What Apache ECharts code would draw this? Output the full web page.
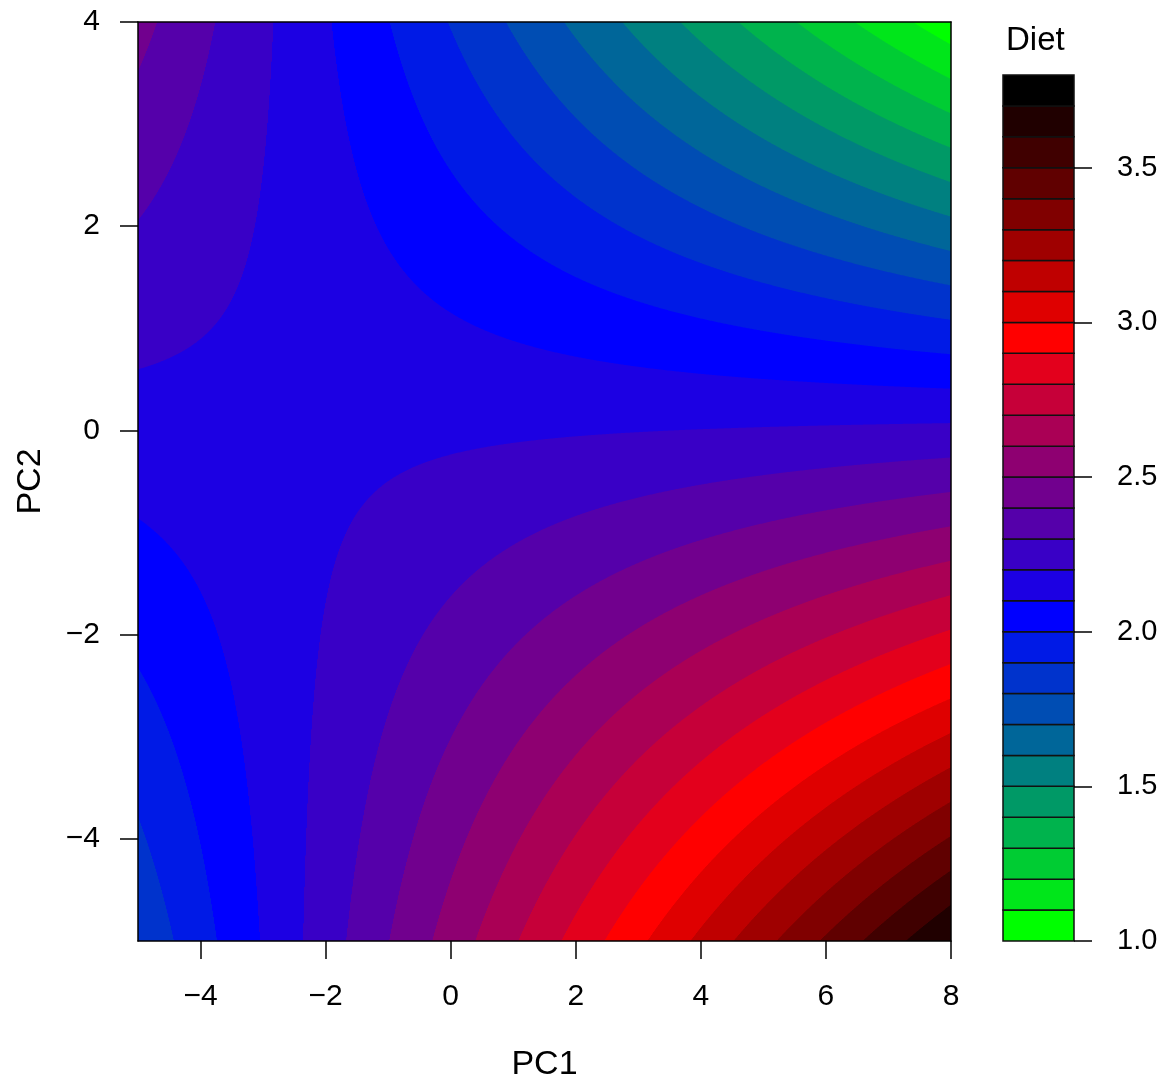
<!DOCTYPE html>
<html>
<head>
<meta charset="utf-8">
<title>Diet response surface</title>
<script src="https://cdn.jsdelivr.net/npm/echarts@6/dist/echarts.min.js"></script>
<style>
  html, body { margin: 0; padding: 0; background: #ffffff; }
  #chart { width: 1172px; height: 1082px; }
</style>
</head>
<body>
<div id="chart"></div>
<script>
// Fitted surface: Diet ~ PC1 * PC2 (linear terms plus interaction)
const fitTerms = ['(Intercept)', 'PC1', 'PC2', 'PC1:PC2'];
const fitCoefs = [2.183, 0.0048, -0.072, -0.0281];

// Plotted window and axis ticks
const pc1Range = [-5, 8];
const pc2Range = [-5, 4];
const pc1Ticks = [-4, -2, 0, 2, 4, 6, 8];
const pc2Ticks = [-4, -2, 0, 2, 4];

// Contour levels of Diet and the colour for each band [level i, level i+1)
const dietLevels = [1.0, 1.1, 1.2, 1.3, 1.4, 1.5, 1.6, 1.7, 1.8, 1.9,
                    2.0, 2.1, 2.2, 2.3, 2.4, 2.5, 2.6, 2.7, 2.8, 2.9,
                    3.0, 3.1, 3.2, 3.3, 3.4, 3.5, 3.6, 3.7, 3.8];
const dietTicks = [1.0, 1.5, 2.0, 2.5, 3.0, 3.5];
const bandColors = [
  '#00FF00', '#00E61A', '#00CC33', '#00B34D', '#009966', '#008080', '#006699',
  '#004DB3', '#0033CC', '#001AE6', '#0000FF', '#1C00E3', '#3900C6', '#5500AA',
  '#71008E', '#8E0071', '#AA0055', '#C60039', '#E3001C', '#FF0000', '#DF0000',
  '#BF0000', '#9F0000', '#800000', '#600000', '#400000', '#200000', '#000000'
];

const FONT = '"Liberation Sans", Arial, Helvetica, sans-serif';
const nCols = 813; // one strip per screen column of the plot

function coefOf(name) { return fitCoefs[fitTerms.indexOf(name)]; }

// Build filled-contour strips. Along each PC1 strip the surface is linear in PC2,
// so every region {Diet >= level} is one PC2 interval; regions are stacked bottom-up.
function buildStrips() {
  const b0 = coefOf('(Intercept)'), b1 = coefOf('PC1'), b2 = coefOf('PC2'), b12 = coefOf('PC1:PC2');
  const out = [];
  const dx = (pc1Range[1] - pc1Range[0]) / nCols;
  const nb = bandColors.length;
  for (let i = 0; i < nCols; i++) {
    const x0 = pc1Range[0] + i * dx;
    const x1 = x0 + dx;
    const xc = (x0 + x1) / 2;
    const p = b0 + b1 * xc;
    const q = b2 + b12 * xc;
    const zA = p + q * pc2Range[0];
    const zB = p + q * pc2Range[1];
    const zMin = Math.min(zA, zB), zMax = Math.max(zA, zB);
    let k0 = 0;
    while (k0 < nb - 1 && dietLevels[k0 + 1] <= zMin) k0++;
    out.push([x0, x1, pc2Range[0], pc2Range[1], (dietLevels[k0] + dietLevels[k0 + 1]) / 2]);
    for (let k = k0 + 1; k < nb && dietLevels[k] <= zMax; k++) {
      const yb = (dietLevels[k] - p) / q;
      const lo = q > 0 ? Math.max(yb, pc2Range[0]) : pc2Range[0];
      const hi = q > 0 ? pc2Range[1] : Math.min(yb, pc2Range[1]);
      if (hi > lo) out.push([x0, x1, lo, hi, (dietLevels[k] + dietLevels[k + 1]) / 2]);
    }
  }
  return out;
}

// Colour key: one box per band
function buildKey() {
  const out = [];
  for (let k = 0; k < bandColors.length; k++) {
    out.push([0, 1, dietLevels[k], dietLevels[k + 1], (dietLevels[k] + dietLevels[k + 1]) / 2]);
  }
  return out;
}

function rectItem(api, style) {
  const tl = api.coord([api.value(0), api.value(3)]);
  const br = api.coord([api.value(1), api.value(2)]);
  return {
    type: 'rect',
    shape: { x: tl[0], y: tl[1], width: br[0] - tl[0], height: br[1] - tl[1] },
    style: Object.assign({ fill: api.visual('color') }, style)
  };
}

function minusFmt(v) {
  return v < 0 ? '\u2212' + Math.abs(v) : String(v);
}

const pieces = bandColors.map((c, k) => ({ gte: dietLevels[k], lt: dietLevels[k + 1], color: c }));

const lineStyle = { color: '#000', width: 1.5 };

const option = {
  animation: false,
  backgroundColor: '#ffffff',
  textStyle: { fontFamily: FONT },
  grid: [
    { left: 138, top: 22, width: 813, height: 919, outerBoundsMode: 'none', containLabel: false },
    { left: 1003, top: 75, width: 71, height: 866, outerBoundsMode: 'none', containLabel: false }
  ],
  visualMap: {
    type: 'piecewise',
    show: false,
    dimension: 4,
    seriesIndex: [0, 1],
    pieces: pieces
  },
  xAxis: [
    {
      type: 'value', gridIndex: 0, min: pc1Range[0], max: pc1Range[1], position: 'bottom', z: 10,
      name: 'PC1', nameLocation: 'middle', nameGap: 107,
      nameTextStyle: { fontSize: 34, color: '#000', fontFamily: FONT },
      axisLine: { show: true, onZero: false, lineStyle: lineStyle },
      axisTick: { show: true, inside: false, length: 18, lineStyle: lineStyle, customValues: pc1Ticks },
      axisLabel: { show: true, margin: 41, fontSize: 30, color: '#000', fontFamily: FONT,
                   customValues: pc1Ticks, formatter: minusFmt, hideOverlap: false },
      splitLine: { show: false }
    },
    {
      type: 'value', gridIndex: 1, min: 0, max: 1, show: false,
      axisLine: { onZero: false }
    },
    {
      type: 'value', gridIndex: 0, min: pc1Range[0], max: pc1Range[1], position: 'top', z: 10,
      axisLine: { show: true, onZero: false, lineStyle: lineStyle },
      axisTick: { show: false }, axisLabel: { show: false }, splitLine: { show: false }
    }
  ],
  yAxis: [
    {
      type: 'value', gridIndex: 0, min: pc2Range[0], max: pc2Range[1], position: 'left', z: 10,
      name: 'PC2', nameLocation: 'middle', nameGap: 90, nameRotate: 90,
      nameTextStyle: { fontSize: 34, color: '#000', fontFamily: FONT },
      axisLine: { show: true, onZero: false, lineStyle: lineStyle },
      axisTick: { show: true, inside: false, length: 18, lineStyle: lineStyle, customValues: pc2Ticks },
      axisLabel: { show: true, margin: 38, fontSize: 30, color: '#000', fontFamily: FONT,
                   customValues: pc2Ticks, formatter: minusFmt, hideOverlap: false },
      splitLine: { show: false }
    },
    {
      type: 'value', gridIndex: 1, min: dietLevels[0], max: dietLevels[dietLevels.length - 1],
      position: 'right', z: 10,
      axisLine: { show: false, onZero: false },
      axisTick: { show: true, inside: false, length: 18, lineStyle: lineStyle, customValues: dietTicks },
      axisLabel: { show: true, margin: 43, fontSize: 29, color: '#000', fontFamily: FONT,
                   customValues: dietTicks, formatter: v => Number(v).toFixed(1), hideOverlap: false },
      splitLine: { show: false }
    },
    {
      type: 'value', gridIndex: 0, min: pc2Range[0], max: pc2Range[1], position: 'right', z: 10,
      axisLine: { show: true, onZero: false, lineStyle: lineStyle },
      axisTick: { show: false }, axisLabel: { show: false }, splitLine: { show: false }
    }
  ],
  graphic: [
    {
      type: 'text', left: 1006, top: 24, z: 10,
      style: { text: 'Diet', fontSize: 33, fill: '#000', fontFamily: FONT }
    }
  ],
  series: [
    {
      name: 'Diet surface',
      type: 'custom',
      xAxisIndex: 0, yAxisIndex: 0,
      coordinateSystem: 'cartesian2d',
      clip: true,
      progressive: 0,
      encode: { x: [0, 1], y: [2, 3] },
      renderItem: (params, api) => rectItem(api, {}),
      data: buildStrips()
    },
    {
      name: 'Diet key',
      type: 'custom',
      xAxisIndex: 1, yAxisIndex: 1,
      coordinateSystem: 'cartesian2d',
      progressive: 0,
      encode: { x: [0, 1], y: [2, 3] },
      renderItem: (params, api) => rectItem(api, { stroke: '#111', lineWidth: 1.5 }),
      data: buildKey()
    }
  ]
};

const chart = echarts.init(document.getElementById('chart'), null, { renderer: 'canvas' });
chart.setOption(option);
</script>
</body>
</html>
